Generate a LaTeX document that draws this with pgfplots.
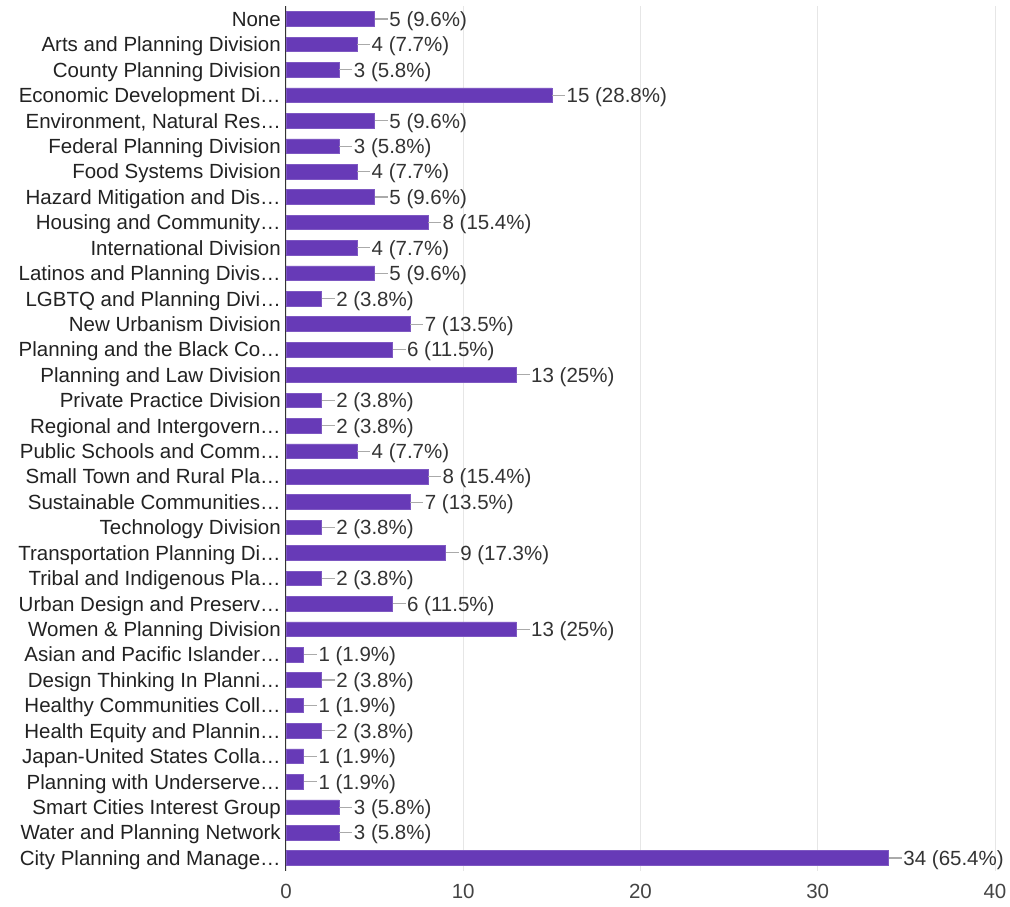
\documentclass[border=0pt]{standalone}
\usepackage{pgfplots}
\pgfplotsset{compat=1.18}
\usepackage{fontspec}
\setmainfont{Liberation Sans}
\definecolor{barpurple}{HTML}{673AB7}
\definecolor{gridgray}{HTML}{E6E6E6}
\definecolor{axisgray}{HTML}{333333}
\definecolor{labgray}{HTML}{222222}
\definecolor{valgray}{HTML}{333333}
\definecolor{tickgray}{HTML}{444444}
\definecolor{conngray}{HTML}{AAAAAA}
\newcommand{\conn}{{\color{conngray}\rule[6.8pt]{13pt}{1.1pt}}\hspace{1.5pt}}
\begin{document}
\begin{tikzpicture}
\path[use as bounding box] (0,0) rectangle (1010pt,907pt);
\begin{axis}[
  at={(286pt,36.3pt)}, anchor=south west,
  scale only axis,
  width=709pt, height=864.4pt,
  xmin=0, xmax=40, ymin=-0.5, ymax=33.5,
  y dir=reverse,
  xbar, bar width=14.6pt, bar shift=0pt,
  axis y line=left, axis x line=bottom,
  x axis line style={draw=none},
  y axis line style={-, draw=axisgray, line width=1pt},
  xtick={0,10,20,30,40},
  xticklabels={0,10,20,30,40},
  xmajorgrids, grid style={gridgray, line width=0.8pt},
  major tick length=0pt,
  ytick={0,...,33},
  yticklabels={None,Arts and Planning Division,County Planning Division,Economic Development Di…,{Environment, Natural Res…},Federal Planning Division,Food Systems Division,Hazard Mitigation and Dis…,Housing and Community…,International Division,Latinos and Planning Divis…,LGBTQ and Planning Divi…,New Urbanism Division,Planning and the Black Co…,Planning and Law Division,Private Practice Division,Regional and Intergovern…,Public Schools and Comm…,Small Town and Rural Pla…,Sustainable Communities…,Technology Division,Transportation Planning Di…,Tribal and Indigenous Pla…,Urban Design and Preserv…,Women \& Planning Division,Asian and Pacific Islander…,Design Thinking In Planni…,Healthy Communities Coll…,Health Equity and Plannin…,Japan-United States Colla…,Planning with Underserve…,Smart Cities Interest Group,Water and Planning Network,City Planning and Manage…},
  yticklabel style={font=\fontsize{20.5}{24}\selectfont, text=labgray, inner sep=0pt, xshift=-5pt, anchor=east, text height=14.7pt, text depth=0pt},
  xticklabel style={font=\fontsize{20.5}{24}\selectfont, text=tickgray, yshift=-10pt},
  point meta=explicit symbolic,
  nodes near coords={\conn\pgfplotspointmeta},
  every node near coord/.append style={font=\fontsize{20.5}{24}\selectfont, text=valgray, anchor=west, inner sep=0pt, xshift=0pt, text height=14.7pt, text depth=0pt},
  clip=false,
]
\addplot[fill=barpurple, draw=barpurple!85!white, line width=0.6pt] coordinates {
(5,0) [5 (9.6\%)]
(4,1) [4 (7.7\%)]
(3,2) [3 (5.8\%)]
(15,3) [15 (28.8\%)]
(5,4) [5 (9.6\%)]
(3,5) [3 (5.8\%)]
(4,6) [4 (7.7\%)]
(5,7) [5 (9.6\%)]
(8,8) [8 (15.4\%)]
(4,9) [4 (7.7\%)]
(5,10) [5 (9.6\%)]
(2,11) [2 (3.8\%)]
(7,12) [7 (13.5\%)]
(6,13) [6 (11.5\%)]
(13,14) [13 (25\%)]
(2,15) [2 (3.8\%)]
(2,16) [2 (3.8\%)]
(4,17) [4 (7.7\%)]
(8,18) [8 (15.4\%)]
(7,19) [7 (13.5\%)]
(2,20) [2 (3.8\%)]
(9,21) [9 (17.3\%)]
(2,22) [2 (3.8\%)]
(6,23) [6 (11.5\%)]
(13,24) [13 (25\%)]
(1,25) [1 (1.9\%)]
(2,26) [2 (3.8\%)]
(1,27) [1 (1.9\%)]
(2,28) [2 (3.8\%)]
(1,29) [1 (1.9\%)]
(1,30) [1 (1.9\%)]
(3,31) [3 (5.8\%)]
(3,32) [3 (5.8\%)]
(34,33) [34 (65.4\%)]
};
\end{axis}
\end{tikzpicture}
\end{document}
